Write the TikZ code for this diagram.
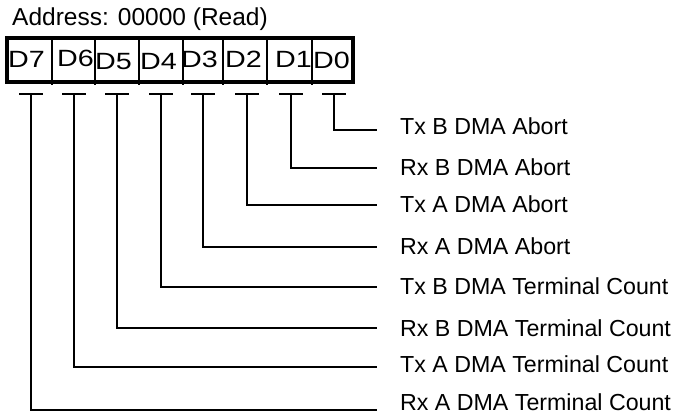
\documentclass[tikz,border=0pt]{standalone}
\usepackage{fontspec}
\setmainfont{Liberation Sans}
\newfontfamily\celfont[FakeStretch=1.22]{Liberation Sans}

\begin{document}
\begin{tikzpicture}[x=1pt,y=-1pt]

% --- Stijldefinities ---
\tikzset{
    kop/.style={
        anchor=base west,
        inner sep=0pt,
        font=\fontsize{24.5}{28}\selectfont
    },
    bitcel/.style={
        anchor=base west,
        inner sep=0pt,
        font=\celfont\fontsize{23.5}{28}\selectfont
    },
    omschrijving/.style={
        anchor=west,
        inner sep=0pt,
        xshift=23pt,  % ruimte tussen lijn en tekst
        font=\fontsize{23.2}{28}\selectfont
    },
    kader/.style={line width=4pt},
    scheiding/.style={line width=1.5pt},
    streep/.style={line width=1.8pt},
    lijn/.style={
        line width=1.8pt,
        line join=miter
    }
}

\useasboundingbox (0,0) rectangle (678,416);

% --- Titel ---
\node[kop] (titel) at (12,25) {Address: 00000 (Read)};

% --- Register ---
\draw[kader] (7,37.5) rectangle (353,81.5);
\draw[scheiding] (52,37.5) -- (52,85);
\draw[scheiding] (95,37.5) -- (95,85);
\draw[scheiding] (139,37.5) -- (139,85);
\draw[scheiding] (183,37.5) -- (183,85);
\draw[scheiding] (223,37.5) -- (223,85);
\draw[scheiding] (267,37.5) -- (267,85);
\draw[scheiding] (312,37.5) -- (312,85);

\node[bitcel] (d7) at (8,67)   {D7};
\node[bitcel] (d6) at (57,66)  {D6};
\node[bitcel] (d5) at (95,69.5) {D5};
\node[bitcel] (d4) at (140,69) {D4};
\node[bitcel] (d3) at (181,67) {D3};
\node[bitcel] (d2) at (225,67) {D2};
\node[bitcel] (d1) at (275,67) {D1};
\node[bitcel] (d0) at (313,68) {D0};

% --- Aftakpunten onder de bits ---
\coordinate (t7) at (31,94);
\coordinate (t6) at (74,94);
\coordinate (t5) at (117,94);
\coordinate (t4) at (161,94);
\coordinate (t3) at (203,94);
\coordinate (t2) at (247,94);
\coordinate (t1) at (291,94);
\coordinate (t0) at (334,94);

\draw[streep] ([xshift=-12pt]t7) -- ([xshift=12pt]t7);
\draw[streep] ([xshift=-12pt]t6) -- ([xshift=12pt]t6);
\draw[streep] ([xshift=-12pt]t5) -- ([xshift=12pt]t5);
\draw[streep] ([xshift=-12pt]t4) -- ([xshift=12pt]t4);
\draw[streep] ([xshift=-12pt]t3) -- ([xshift=12pt]t3);
\draw[streep] ([xshift=-12pt]t2) -- ([xshift=12pt]t2);
\draw[streep] ([xshift=-12pt]t1) -- ([xshift=12pt]t1);
\draw[streep] ([xshift=-12pt]t0) -- ([xshift=12pt]t0);

% --- Eindpunten van de lijnen ---
\coordinate (e0) at (377,130);
\coordinate (e1) at (377,168);
\coordinate (e2) at (377,205);
\coordinate (e3) at (377,247);
\coordinate (e4) at (377,287);
\coordinate (e5) at (377,328);
\coordinate (e6) at (377,367);
\coordinate (e7) at (377,410);

% --- Omschrijvingen ---
\node[omschrijving, yshift=4pt]   (l0) at (e0) {Tx B DMA Abort};
\node[omschrijving, yshift=1pt]   (l1) at (e1) {Rx B DMA Abort};
\node[omschrijving, yshift=1pt]   (l2) at (e2) {Tx A DMA Abort};
\node[omschrijving, yshift=1pt]   (l3) at (e3) {Rx A DMA Abort};
\node[omschrijving, yshift=0.5pt] (l4) at (e4) {Tx B DMA Terminal Count};
\node[omschrijving]               (l5) at (e5) {Rx B DMA Terminal Count};
\node[omschrijving, yshift=2.5pt] (l6) at (e6) {Tx A DMA Terminal Count};
\node[omschrijving, yshift=8pt]   (l7) at (e7) {Rx A DMA Terminal Count};

% --- Lijnen ---
\draw[lijn] (t0) |- (e0);
\draw[lijn] (t1) |- (e1);
\draw[lijn] (t2) |- (e2);
\draw[lijn] (t3) |- (e3);
\draw[lijn] (t4) |- (e4);
\draw[lijn] (t5) |- (e5);
\draw[lijn] (t6) |- (e6);
\draw[lijn] (t7) |- (e7);
\end{tikzpicture}
\end{document}
